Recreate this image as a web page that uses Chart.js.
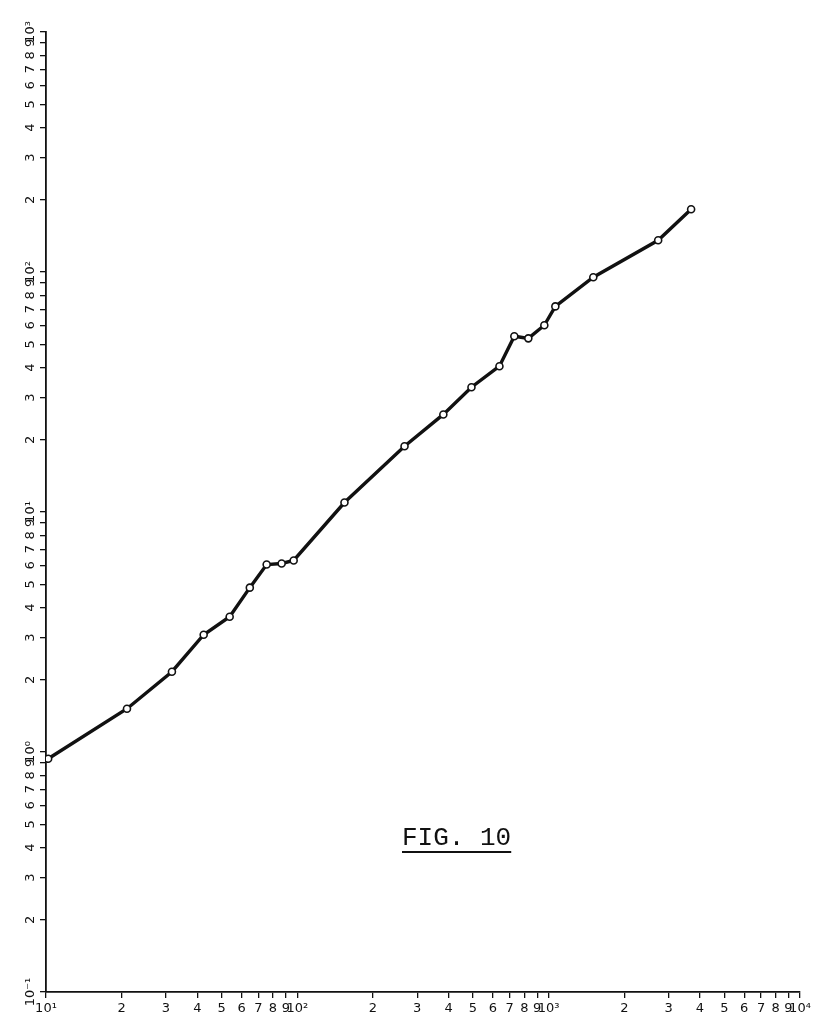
<!DOCTYPE html>
<html>
<head>
<meta charset="utf-8">
<script src="https://cdn.jsdelivr.net/npm/chart.js@4.4.1/dist/chart.umd.min.js"></script>
<style>
    html, body { margin: 0; padding: 0; background: #fff; }
    #wrap { position: relative; width: 826px; height: 1030px; }
    #fig-label {
        position: absolute;
        left: 402px;
        top: 825px;
        font: 26px "Liberation Mono", "DejaVu Sans Mono", monospace;
        line-height: 26px;
        color: #111;
        text-decoration: underline;
        text-decoration-thickness: 2px;
        text-underline-offset: 6px;
        white-space: pre;
    }
</style>
</head>
<body>
<div id="wrap">
    <canvas id="fig-chart" width="826" height="1030"></canvas>
    <div id="fig-label">FIG. 10</div>
</div>
<script>
// measured points (log-log)
const xValues = [10.2, 21.0, 31.7, 42.4, 53.8, 64.7, 75.5, 86.6, 96.7, 154, 267, 381, 493, 637, 730, 830, 961, 1063, 1505, 2727, 3688];
const yValues = [0.937, 1.515, 2.16, 3.08, 3.66, 4.84, 6.04, 6.10, 6.28, 10.95, 18.8, 25.5, 33.1, 40.5, 54.0, 52.9, 60.0, 71.9, 95.1, 135.6, 182.7];

// tick labels
const mantissas = [1, 2, 3, 4, 5, 6, 7, 8, 9];
const minorLabels = ['2', '3', '4', '5', '6', '7', '8', '9'];
const xExponents = [1, 2, 3, 4];
const yExponents = [-1, 0, 1, 2, 3];
const xDecadeLabels = ['10¹', '10²', '10³', '10⁴'];
const yDecadeLabels = ['10⁻¹', '10⁰', '10¹', '10²', '10³'];

// one tick per mantissa in every decade, then the closing power of ten
function logTicks(exponents) {
    const ticks = [];
    exponents.forEach((e, i) => {
        if (i === exponents.length - 1) {
            ticks.push({ value: Math.pow(10, e), label: e, mant: 1 });
            return;
        }
        mantissas.forEach(m => ticks.push({ value: m * Math.pow(10, e), label: e, mant: m }));
    });
    return ticks;
}

function tickText(tick, exponents, decadeLabels) {
    if (tick.mant === 1) return decadeLabels[exponents.indexOf(tick.label)];
    return minorLabels[tick.mant - 2];
}

const xTicks = logTicks(xExponents);
const yTicks = logTicks(yExponents);

const INK = '#111';

const axisGrid = {
    display: true,
    drawOnChartArea: false,
    drawTicks: true,
    tickLength: 6,
    color: INK,
    lineWidth: 1.3
};

const axisBorder = { display: true, color: INK, width: 1.8 };

const ctx = document.getElementById('fig-chart').getContext('2d');

new Chart(ctx, {
    type: 'line',
    data: {
        datasets: [{
            data: xValues.map((x, i) => ({ x: x, y: yValues[i] })),
            borderColor: INK,
            borderWidth: 3.4,
            tension: 0,
            pointRadius: 3.5,
            pointBackgroundColor: '#fff',
            pointBorderColor: INK,
            pointBorderWidth: 1.6
        }]
    },
    options: {
        responsive: false,
        animation: false,
        devicePixelRatio: 1,
        layout: { padding: { top: 32, right: 26, left: 0, bottom: 0 } },
        plugins: {
            legend: { display: false },
            tooltip: { enabled: false }
        },
        scales: {
            x: {
                type: 'logarithmic',
                min: 10,
                max: 10000,
                grid: axisGrid,
                border: axisBorder,
                afterBuildTicks: (scale) => {
                    scale.ticks = xTicks.map(t => ({ value: t.value }));
                },
                ticks: {
                    autoSkip: false,
                    minRotation: 0,
                    maxRotation: 0,
                    padding: 3,
                    color: INK,
                    font: { family: 'DejaVu Sans', size: 13 },
                    callback: (value, index) => tickText(xTicks[index], xExponents, xDecadeLabels)
                },
                afterFit: (scale) => { scale.height = 38; }
            },
            y: {
                type: 'logarithmic',
                min: 0.1,
                max: 1000,
                grid: axisGrid,
                border: axisBorder,
                afterBuildTicks: (scale) => {
                    scale.ticks = yTicks.map(t => ({ value: t.value }));
                },
                ticks: {
                    autoSkip: false,
                    minRotation: 90,
                    maxRotation: 90,
                    crossAlign: 'center',
                    padding: -5,
                    color: INK,
                    font: { family: 'DejaVu Sans', size: 13 },
                    callback: (value, index) => tickText(yTicks[index], yExponents, yDecadeLabels)
                },
                afterFit: (scale) => { scale.width = 46; }
            }
        }
    }
});
</script>
</body>
</html>
